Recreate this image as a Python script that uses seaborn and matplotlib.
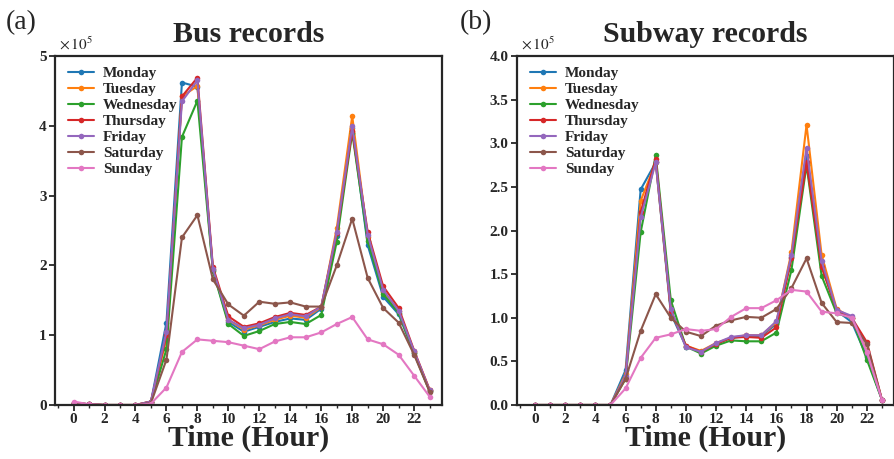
import numpy as np
import pandas as pd
import matplotlib
matplotlib.use('Agg')
import matplotlib.pyplot as plt
import seaborn as sns
from matplotlib.ticker import MultipleLocator

hours = list(range(24))
days = ['Monday', 'Tuesday', 'Wednesday', 'Thursday', 'Friday', 'Saturday', 'Sunday']

# bus records, units of 1e5
bus_mon = [0.03, 0.01, 0, 0, 0, 0.05, 1.18, 4.62, 4.56, 1.93, 1.19, 1.05, 1.12, 1.19, 1.24, 1.22, 1.38, 2.42, 3.97, 2.29, 1.55, 1.30, 0.74, 0.20]
bus_tue = [0.03, 0.01, 0, 0, 0, 0.05, 0.95, 4.42, 4.57, 1.95, 1.22, 1.08, 1.14, 1.22, 1.28, 1.25, 1.40, 2.53, 4.14, 2.40, 1.62, 1.34, 0.76, 0.21]
bus_wed = [0.03, 0.01, 0, 0, 0, 0.04, 0.80, 3.84, 4.36, 1.92, 1.16, 0.99, 1.06, 1.16, 1.19, 1.16, 1.29, 2.34, 3.90, 2.35, 1.59, 1.32, 0.74, 0.20]
bus_thu = [0.03, 0.01, 0, 0, 0, 0.05, 1.00, 4.42, 4.69, 1.98, 1.27, 1.12, 1.17, 1.26, 1.32, 1.29, 1.41, 2.46, 3.93, 2.48, 1.70, 1.39, 0.78, 0.22]
bus_fri = [0.03, 0.01, 0, 0, 0, 0.05, 1.05, 4.35, 4.65, 1.95, 1.22, 1.10, 1.15, 1.24, 1.30, 1.27, 1.41, 2.48, 3.99, 2.44, 1.65, 1.35, 0.77, 0.21]
bus_sat = [0.03, 0.01, 0, 0, 0, 0.03, 0.65, 2.40, 2.72, 1.80, 1.44, 1.28, 1.48, 1.45, 1.47, 1.41, 1.41, 2.00, 2.67, 1.82, 1.39, 1.18, 0.72, 0.19]
bus_sun = [0.05, 0.01, 0, 0, 0, 0.02, 0.25, 0.76, 0.94, 0.92, 0.90, 0.85, 0.80, 0.91, 0.97, 0.97, 1.04, 1.16, 1.26, 0.94, 0.87, 0.72, 0.42, 0.12]

# subway records, units of 1e5
sub_mon = [0, 0, 0, 0, 0, 0, 0.40, 2.47, 2.78, 1.05, 0.67, 0.61, 0.70, 0.77, 0.79, 0.79, 0.93, 1.70, 2.85, 1.60, 1.08, 0.95, 0.55, 0.06]
sub_tue = [0, 0, 0, 0, 0, 0, 0.35, 2.34, 2.78, 1.08, 0.68, 0.62, 0.71, 0.77, 0.80, 0.80, 0.95, 1.75, 3.21, 1.72, 1.10, 1.00, 0.62, 0.06]
sub_wed = [0, 0, 0, 0, 0, 0, 0.30, 1.98, 2.86, 1.20, 0.67, 0.59, 0.68, 0.74, 0.73, 0.73, 0.83, 1.55, 2.75, 1.48, 1.05, 1.00, 0.52, 0.06]
sub_thu = [0, 0, 0, 0, 0, 0, 0.32, 2.21, 2.82, 1.08, 0.68, 0.61, 0.70, 0.77, 0.78, 0.77, 0.89, 1.68, 2.78, 1.58, 1.09, 1.00, 0.72, 0.06]
sub_fri = [0, 0, 0, 0, 0, 0, 0.33, 2.15, 2.78, 1.10, 0.66, 0.61, 0.71, 0.78, 0.80, 0.80, 0.96, 1.72, 2.95, 1.65, 1.09, 1.02, 0.60, 0.06]
sub_sat = [0, 0, 0, 0, 0, 0, 0.30, 0.85, 1.27, 1.00, 0.84, 0.79, 0.91, 0.97, 1.01, 1.00, 1.10, 1.34, 1.68, 1.17, 0.95, 0.94, 0.70, 0.06]
sub_sun = [0, 0, 0, 0, 0, 0, 0.19, 0.54, 0.77, 0.81, 0.87, 0.85, 0.87, 1.01, 1.11, 1.11, 1.20, 1.32, 1.30, 1.07, 1.05, 1.00, 0.61, 0.06]

bus = [bus_mon, bus_tue, bus_wed, bus_thu, bus_fri, bus_sat, bus_sun]
sub = [sub_mon, sub_tue, sub_wed, sub_thu, sub_fri, sub_sat, sub_sun]


def long_form(series):
  rows = []
  for d, vals in zip(days, series):
    for h, v in zip(hours, vals):
      rows.append((d, h, v))
  return pd.DataFrame(rows, columns=['day', 'hour', 'value'])


sns.set_style('ticks')
plt.rcParams['font.family'] = ['Liberation Serif', 'DejaVu Serif']
plt.rcParams['mathtext.fontset'] = 'stix'
plt.rcParams['axes.linewidth'] = 1.6

fig = plt.figure(figsize=(8.95, 4.59), dpi=100)
ax1 = fig.add_axes([55/895, 54/459, 387/895, 349/459])
ax2 = fig.add_axes([517/895, 54/459, 377/895, 349/459])

panels = [(ax1, bus, 'Bus records', 5, 1, '{:.0f}'),
          (ax2, sub, 'Subway records', 4, 0.5, '{:.1f}')]

for ax, series, title, ymax, ystep, fmt in panels:
  df = long_form(series)
  sns.lineplot(data=df, x='hour', y='value', hue='day', hue_order=days,
               palette='tab10', marker='o', markersize=4, markeredgewidth=0,
               linewidth=1.5, ax=ax)
  ax.set_xlim(-1.2, 23.8)
  ax.set_ylim(0, ymax)
  ax.set_xticks(range(0, 23, 2))
  ax.xaxis.set_minor_locator(MultipleLocator(1))
  yt = np.arange(0, ymax + 1e-9, ystep)
  ax.set_yticks(yt)
  ax.set_yticklabels([fmt.format(v) for v in yt])
  ax.tick_params(axis='both', which='major', direction='out', length=4, width=1.3,
                 labelsize=11, pad=2)
  ax.tick_params(axis='x', which='minor', direction='out', length=2.5, width=1.0)
  for lab in ax.get_xticklabels() + ax.get_yticklabels():
    lab.set_fontweight('bold')
  ax.set_xlabel('Time (Hour)', fontsize=21.5, fontweight='bold', labelpad=-1)
  ax.set_ylabel('')
  ax.set_title(title, fontsize=21.5, fontweight='bold', pad=10)
  ax.text(0.01, 1.01, r'$\times\,10^{5}$', transform=ax.transAxes,
          fontsize=11, ha='left', va='bottom')
  leg = ax.legend(loc='upper left', frameon=False, prop={'weight': 'bold', 'size': 11},
                  handlelength=1.7, labelspacing=0.15, handletextpad=0.6,
                  borderaxespad=0.3, bbox_to_anchor=(0.005, 1.0))
  for line in leg.get_lines():
    line.set_linewidth(1.5)

fig.text(6/895, 1 - 23/459, '(a)', fontsize=20, ha='left', va='center')
fig.text(460/895, 1 - 23/459, '(b)', fontsize=20, ha='left', va='center')

fig.savefig('out.png', dpi=100)
